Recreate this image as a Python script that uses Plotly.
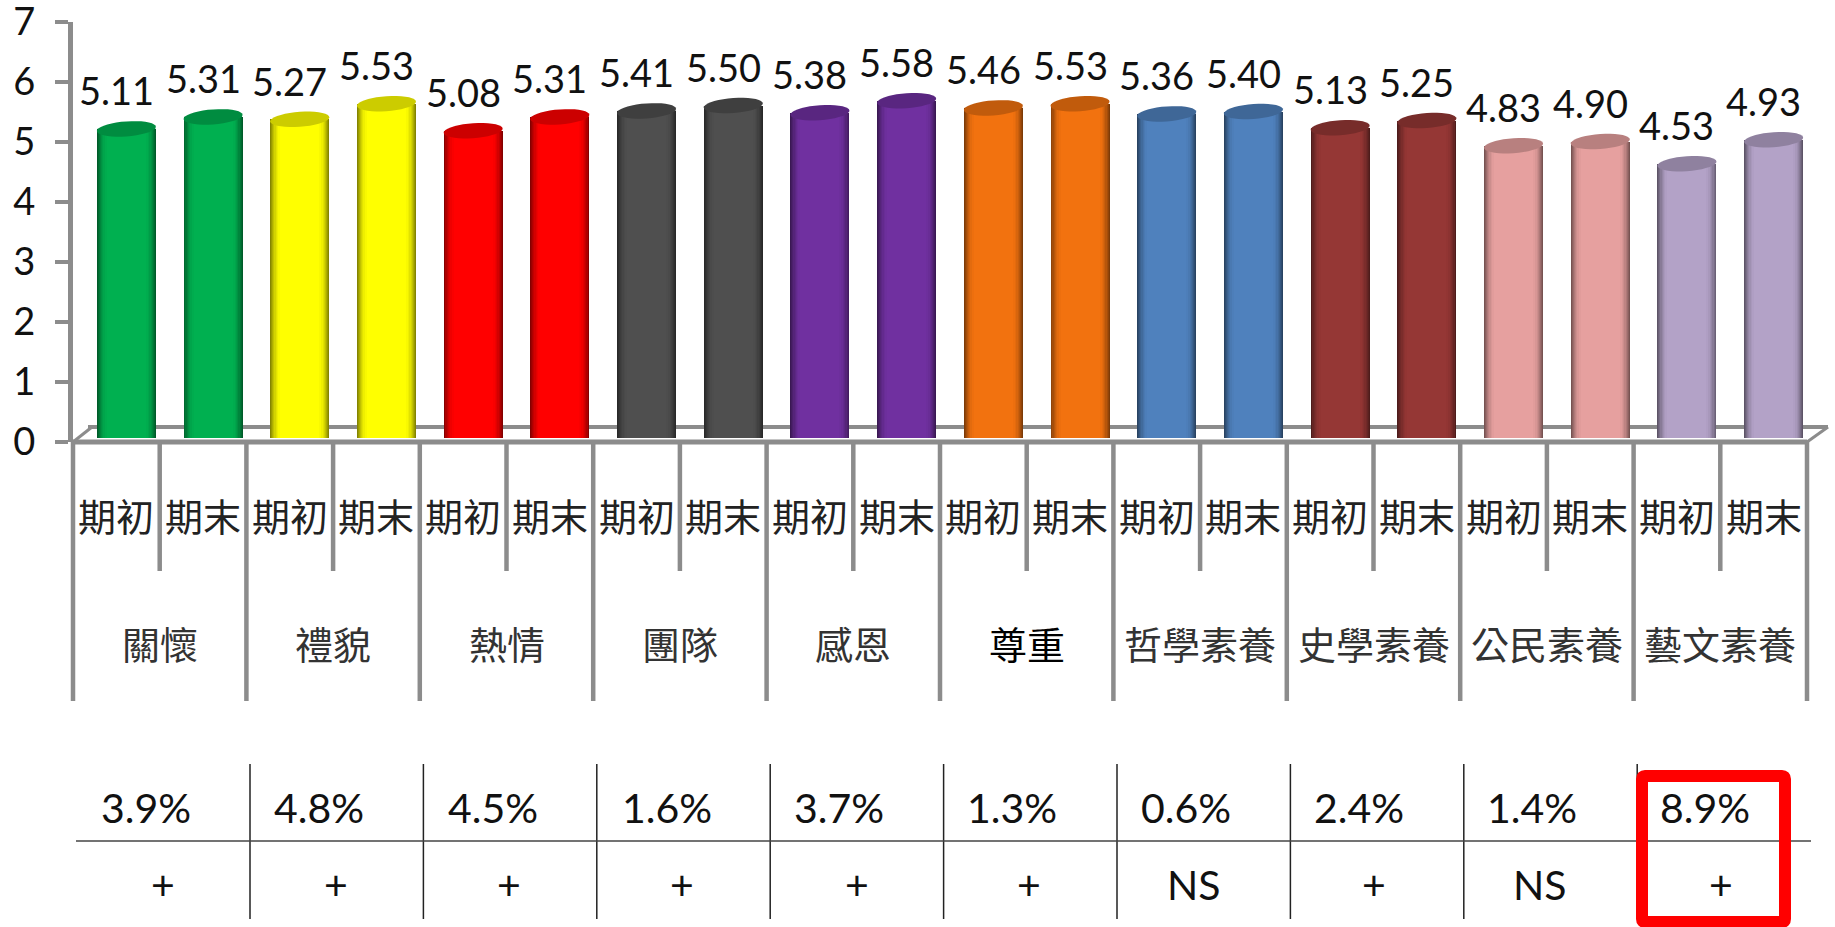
import numpy as np
import plotly.graph_objects as go

WIDTH, HEIGHT = 1835, 927
FONT = "Lato, 'Noto Sans CJK TC', sans-serif"
CJK = "'Noto Sans CJK TC', sans-serif"
GRID = "#8c8c8c"

groups = ["關懷", "禮貌", "熱情", "團隊", "感恩", "尊重", "哲學素養", "史學素養", "公民素養", "藝文素養"]
periods = ["期初", "期末"]
begin_values = [5.11, 5.27, 5.08, 5.41, 5.38, 5.46, 5.36, 5.13, 4.83, 4.53]
end_values = [5.31, 5.53, 5.31, 5.50, 5.58, 5.53, 5.40, 5.25, 4.90, 4.93]
group_colors = ["#00b050", "#ffff00", "#ff0000", "#4f4f4f", "#7030a0",
                "#f2720f", "#4f81bd", "#953735", "#e6a09f", "#b3a2c7"]
growth = ["3.9%", "4.8%", "4.5%", "1.6%", "3.7%", "1.3%", "0.6%", "2.4%", "1.4%", "8.9%"]
significance = ["+", "+", "+", "+", "+", "+", "NS", "+", "NS", "+"]
growth_x = [146, 319, 493, 667, 839, 1012, 1186, 1359, 1532, 1705]
sign_x = [163, 336, 509, 682, 857, 1029, 1194, 1374, 1540, 1721]

values = [v for pair in zip(begin_values, end_values) for v in pair]
colors = [c for c in group_colors for _ in range(2)]
n = len(values)
xs = list(range(n))

L, R, Y0, Y7 = 73, 1807, 442, 22
PX_X = (R - L) / n
PX_Y = (Y0 - Y7) / 7
SHIFT_X, SHIFT_Y = 10 / PX_X, 6.5 / PX_Y


def shade(hex_color, f):
    r, g, b = [int(hex_color[i:i + 2], 16) for i in (1, 3, 5)]
    return f"rgb({int(r * f)},{int(g * f)},{int(b * f)})"


def py(p):
    return 1 - p / HEIGHT


def px(p):
    return p / WIDTH


fig = go.Figure()

BAR_PX = 59
levels = [(1.00, 0.52), (0.97, 0.60), (0.94, 0.68), (0.90, 0.76), (0.86, 0.83),
          (0.82, 0.89), (0.78, 0.94), (0.73, 0.98), (0.66, 1.00)]
EXT = 0.04
for frac, f in levels:
    fig.add_trace(go.Bar(
        x=xs, y=[v + EXT for v in values], base=-EXT, width=frac * BAR_PX / PX_X,
        marker=dict(color=[shade(c, f) for c in colors], line=dict(width=0)),
        xaxis="x2", yaxis="y2", showlegend=False, hoverinfo="skip"))

shapes = []
shapes.append(dict(type="line", xref="paper", yref="paper", layer="below",
                   x0=px(88), x1=px(1828), y0=py(427), y1=py(427),
                   line=dict(color=GRID, width=4)))
shapes.append(dict(type="line", xref="paper", yref="paper", layer="below",
                   x0=px(L), x1=px(92), y0=py(Y0), y1=py(427),
                   line=dict(color=GRID, width=3)))
shapes.append(dict(type="line", xref="paper", yref="paper", layer="below",
                   x0=px(R), x1=px(1828), y0=py(Y0), y1=py(427),
                   line=dict(color=GRID, width=3)))
shapes.append(dict(type="line", xref="paper", yref="paper",
                   x0=px(L), x1=px(R), y0=py(Y0), y1=py(Y0),
                   line=dict(color=GRID, width=5)))

t = np.linspace(0, 2 * np.pi, 37)[:-1]
RX, RY, TILT = BAR_PX / 2, 7.5, 0.07
for i, v in enumerate(values):
    dx = RX * np.cos(t)
    dy = RY * np.sin(t) + TILT * dx
    pts = [f"{i + a / PX_X:.4f},{v + b / PX_Y:.4f}" for a, b in zip(dx, dy)]
    shapes.append(dict(type="path", xref="x2", yref="y2",
                       path="M" + " L".join(pts) + " Z",
                       fillcolor=shade(colors[i], 0.80), line=dict(width=0)))

INNER_END, OUTER_END = 571, 701
for i in range(n + 1):
    end = OUTER_END if i % 2 == 0 else INNER_END
    shapes.append(dict(type="line", xref="paper", yref="paper",
                       x0=px(L + PX_X * i), x1=px(L + PX_X * i), y0=py(Y0), y1=py(end),
                       line=dict(color=GRID, width=4.5)))

for k in range(1, 10):
    xk = 250 + 173.4 * (k - 1)
    shapes.append(dict(type="line", xref="paper", yref="paper",
                       x0=px(xk), x1=px(xk), y0=py(764), y1=py(919),
                       line=dict(color="#222222", width=1.5)))
shapes.append(dict(type="line", xref="paper", yref="paper",
                   x0=px(76), x1=px(1811), y0=py(841), y1=py(841),
                   line=dict(color="#444444", width=1.5)))

bx0, bx1, by0, by1, br = 1642, 1785, 776, 922, 3
corner = (f"M{px(bx0 + br)},{py(by0)} L{px(bx1 - br)},{py(by0)} Q{px(bx1)},{py(by0)} {px(bx1)},{py(by0 + br)} "
          f"L{px(bx1)},{py(by1 - br)} Q{px(bx1)},{py(by1)} {px(bx1 - br)},{py(by1)} "
          f"L{px(bx0 + br)},{py(by1)} Q{px(bx0)},{py(by1)} {px(bx0)},{py(by1 - br)} "
          f"L{px(bx0)},{py(by0 + br)} Q{px(bx0)},{py(by0)} {px(bx0 + br)},{py(by0)} Z")
shapes.append(dict(type="path", xref="paper", yref="paper", path=corner,
                   line=dict(color="#ff0000", width=12)))

ann = []
for i, v in enumerate(values):
    ann.append(dict(x=i, y=v, xref="x", yref="y", yshift=45, text=f"{v:.2f}",
                    showarrow=False, xanchor="center", yanchor="middle",
                    font=dict(family=FONT, size=38, color="#111111")))
    ann.append(dict(x=i, y=py(514), xref="x", yref="paper", text=periods[i % 2],
                    showarrow=False, xanchor="center", yanchor="middle",
                    font=dict(family=CJK, size=38, color="#222222")))
for k, g in enumerate(groups):
    ann.append(dict(x=2 * k + 0.5, y=py(642), xref="x", yref="paper", text=g,
                    showarrow=False, xanchor="center", yanchor="middle",
                    font=dict(family=CJK, size=38,
                              color="#000000" if g == "尊重" else "#333333")))
    ann.append(dict(x=px(growth_x[k]), y=py(807), xref="paper", yref="paper", text=growth[k],
                    showarrow=False, xanchor="center", yanchor="middle",
                    font=dict(family=FONT, size=41, color="#111111")))
    ann.append(dict(x=px(sign_x[k]), y=py(884), xref="paper", yref="paper", text=significance[k],
                    showarrow=False, xanchor="center", yanchor="middle",
                    font=dict(family=FONT, size=41, color="#111111")))

dom_x = [px(L), px(R)]
dom_y = [py(Y0), py(Y7)]
fig.update_layout(
    width=WIDTH, height=HEIGHT, autosize=False,
    margin=dict(l=0, r=0, t=0, b=0, pad=0, autoexpand=False),
    paper_bgcolor="white", plot_bgcolor="white",
    barmode="overlay", bargap=0, showlegend=False,
    font=dict(family=FONT),
    shapes=shapes, annotations=ann,
    xaxis=dict(domain=dom_x, range=[-0.5, n - 0.5], showgrid=False, zeroline=False,
               showticklabels=False, ticks="", automargin=False),
    yaxis=dict(domain=dom_y, range=[0, 7], dtick=1, showgrid=False, zeroline=False,
               showline=True, linecolor=GRID, linewidth=5, ticks="outside",
               ticklen=13, tickwidth=4, tickcolor=GRID, ticklabelstandoff=12,
               ticklabeloverflow="allow", automargin=False,
               tickfont=dict(family=FONT, size=38, color="#111111")),
    xaxis2=dict(domain=dom_x, range=[-0.5 - SHIFT_X, n - 0.5 - SHIFT_X], overlaying="x",
                visible=False),
    yaxis2=dict(domain=dom_y, range=[-SHIFT_Y, 7 - SHIFT_Y], overlaying="y", visible=False),
)

fig.write_html("out.html", config=dict(displayModeBar=False, responsive=False),
               post_script="document.body.style.margin='0';document.body.style.overflow='hidden';")
